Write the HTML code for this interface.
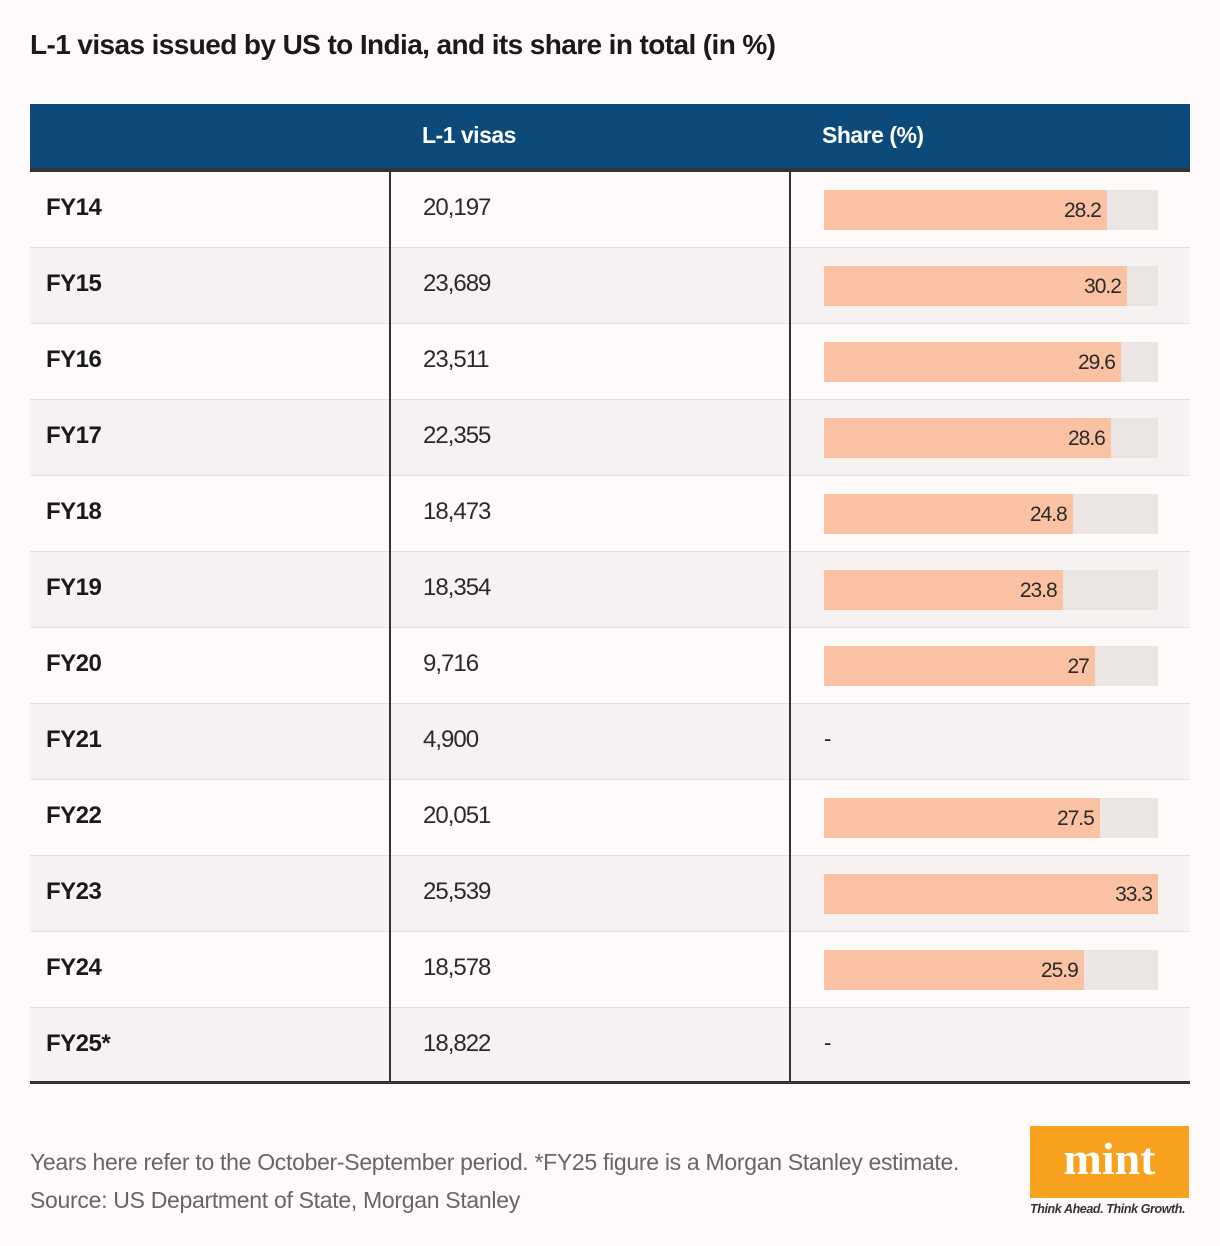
<!DOCTYPE html>
<html><head><meta charset="utf-8"><style>
body{margin:0;width:1220px;height:1246px;background:#fffafa;font-family:"Liberation Sans",sans-serif;position:relative;overflow:hidden;color:#222}
.title{position:absolute;left:30px;top:29px;font-size:28px;font-weight:bold;letter-spacing:-0.6px;color:#1a1a1a}
.hdr{position:absolute;left:30px;top:104px;width:1160px;height:64px;background:#0c4a7a;border-bottom:4px solid #333}
.hdr span{position:absolute;top:18px;color:#fff;font-weight:bold;font-size:23px;letter-spacing:-0.5px}
.row{position:absolute;left:30px;width:1160px;height:75px;border-bottom:1px solid #e4dfde}
.fy{position:absolute;left:16px;top:22px;font-weight:bold;font-size:24px;letter-spacing:-0.5px;color:#1a1a1a}
.val{position:absolute;left:393px;top:22px;font-size:24px;letter-spacing:-1px;color:#2a2a2a}
.track{position:absolute;left:794px;top:18px;width:334px;height:40px;background:#ebe5e4}
.bar{position:absolute;left:0;top:0;height:40px;background:#fac1a3}
.bar span{position:absolute;right:6px;top:9px;font-size:21px;letter-spacing:-1px;color:#2a2a2a}
.dash{position:absolute;left:794px;top:22px;font-size:22px}
.vline{position:absolute;top:172px;width:2px;height:910px;background:#333}
.bottom{position:absolute;left:30px;top:1081px;width:1160px;height:3px;background:#333}
.note{position:absolute;left:30px;font-size:23px;color:#666;letter-spacing:-0.3px}
.logo{position:absolute;left:1030px;top:1126px;width:159px;height:72px;background:#f7a11f;color:#fff;font-family:"Liberation Serif",serif;font-weight:bold;font-size:46px;text-align:center;line-height:66px}
.tag{position:absolute;left:1030px;top:1202px;font-size:12.5px;font-style:italic;font-weight:bold;color:#333;letter-spacing:-0.4px}
</style></head><body>
<div class="title">L-1 visas issued by US to India, and its share in total (in %)</div>
<div class="hdr"><span style="left:392px">L-1 visas</span><span style="left:792px">Share (%)</span></div>
<div id="rows"></div>
<div class="vline" style="left:389px"></div>
<div class="vline" style="left:789px"></div>
<div class="bottom"></div>
<div class="note" style="top:1149px">Years here refer to the October-September period. *FY25 figure is a Morgan Stanley estimate.</div>
<div class="note" style="top:1187px">Source: US Department of State, Morgan Stanley</div>
<div class="logo">mint</div>
<div class="tag">Think Ahead. Think Growth.</div>
<script>
const years=["FY14","FY15","FY16","FY17","FY18","FY19","FY20","FY21","FY22","FY23","FY24","FY25*"];
const visas=["20,197","23,689","23,511","22,355","18,473","18,354","9,716","4,900","20,051","25,539","18,578","18,822"];
const shares=[28.2,30.2,29.6,28.6,24.8,23.8,27,null,27.5,33.3,25.9,null];
const maxShare=33.3, trackW=334;
const x=v=>v/maxShare*trackW;
const c=document.getElementById('rows');
years.forEach((y,i)=>{
  const r=document.createElement('div');
  r.className='row';
  
  
  r.style.top=(172+i*76)+'px';
  r.style.background=i%2?'#f6f2f1':'#fffafa';
  let h='<div class="fy">'+y+'</div><div class="val">'+visas[i]+'</div>';
  if(shares[i]==null) h+='<div class="dash">-</div>';
  else h+='<div class="track"><div class="bar" style="width:'+x(shares[i])+'px"><span>'+shares[i]+'</span></div></div>';
  r.innerHTML=h;
  c.appendChild(r);
});
</script>
</body></html>
